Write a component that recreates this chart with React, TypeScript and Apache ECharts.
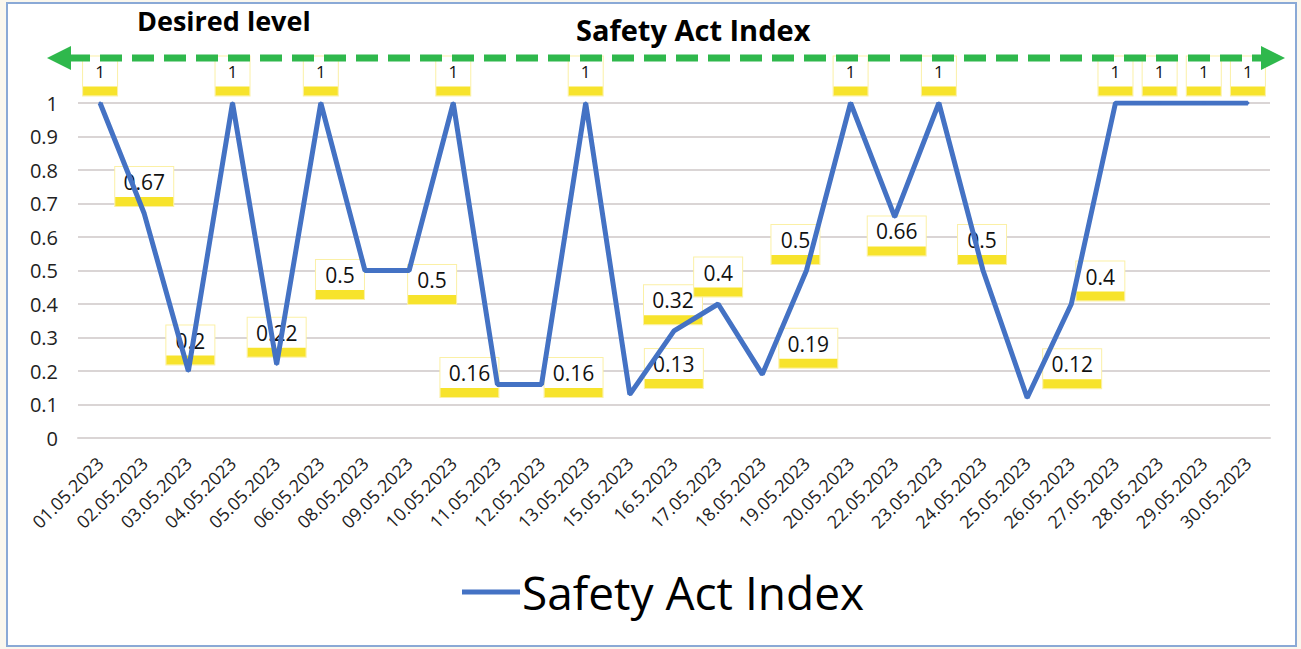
import React, { useEffect, useRef } from "react";
import * as echarts from "echarts";

const categories = [
  "01.05.2023", "02.05.2023", "03.05.2023", "04.05.2023", "05.05.2023", "06.05.2023",
  "08.05.2023", "09.05.2023", "10.05.2023", "11.05.2023", "12.05.2023", "13.05.2023",
  "15.05.2023", "16.5.2023", "17.05.2023", "18.05.2023", "19.05.2023", "20.05.2023",
  "22.05.2023", "23.05.2023", "24.05.2023", "25.05.2023", "26.05.2023", "27.05.2023",
  "28.05.2023", "29.05.2023", "30.05.2023",
];

const safetyActIndex = [
  1, 0.67, 0.2, 1, 0.22, 1, 0.5, 0.5, 1, 0.16, 0.16, 1, 0.13, 0.32, 0.4, 0.19, 0.5, 1,
  0.66, 1, 0.5, 0.12, 0.4, 1, 1, 1, 1,
];

const yTicks = { min: 0, max: 1, interval: 0.1 };

const seriesName = "Safety Act Index";
const titleText = "Safety Act Index";
const desiredLevelText = "Desired level";

// label box offsets (box centre relative to point), styling only
const labelOffsets: [number, number][] = [
  [0, -27], [0, -27], [2, -26], [0, -27], [0, -27], [0, -27],
  [-25, 9], [23, 14], [0, -27], [-28, -7], [32, -7], [0, -27],
  [44, -26], [-1, -26], [0, -27], [46, -26], [-11, -26], [0, -27],
  [2, 19], [0, -27], [-1, -26], [45, -29], [29, -23], [0, -27],
  [0, -27], [0, -27], [0, -27],
];

const FONT = "'Open Sans', 'Noto Sans', sans-serif";
const BLUE = "#4472c4";
const YELLOW = "#f7e32c";
const GREEN = "#2fb84c";

export default function App() {
  const ref = useRef<HTMLDivElement>(null);

  useEffect(() => {
    if (!ref.current) return;
    const chart = echarts.init(ref.current, null, { renderer: "svg" });

    const labelData = safetyActIndex.map((v, i) => ({
      value: v,
      label: { offset: labelOffsets[i] },
    }));

    const option: any = {
      animation: false,
      textStyle: { fontFamily: FONT },
      title: {
        text: titleText,
        left: 576,
        top: 15,
        padding: 0,
        textStyle: { fontFamily: FONT, fontWeight: "bold", fontSize: 29, color: "#000" },
      },
      grid: { left: 78, right: 31, top: 103, bottom: 211, containLabel: false },
      legend: {
        data: [seriesName],
        left: 457,
        top: 561,
        icon: "rect",
        itemWidth: 58,
        itemHeight: 5,
        itemGap: 5,
        textStyle: { fontFamily: FONT, fontSize: 46, color: "#000", lineHeight: 52, padding: [0, 0, 0, -3] },
      },
      xAxis: {
        type: "category",
        data: categories,
        boundaryGap: true,
        axisLine: { show: true, lineStyle: { color: "#dad5d5", width: 2 } },
        axisTick: { show: false },
        axisLabel: {
          rotate: 45,
          margin: 22,
          interval: 0,
          fontFamily: FONT,
          fontSize: 18,
          color: "#222",
        },
      },
      yAxis: {
        type: "value",
        min: yTicks.min,
        max: yTicks.max,
        interval: yTicks.interval,
        axisLine: { show: false },
        axisTick: { show: false },
        splitLine: { lineStyle: { color: "#dad5d5", width: 2 } },
        axisLabel: {
          margin: 20,
          fontFamily: FONT,
          fontSize: 20,
          color: "#222",
          formatter: (v: number) => String(Math.round(v * 10) / 10),
        },
      },
      series: [
        {
          name: seriesName,
          type: "line",
          z: 4,
          data: safetyActIndex,
          symbol: "circle",
          symbolSize: 3,
          itemStyle: { color: BLUE },
          lineStyle: { color: BLUE, width: 5 },
          label: { show: false },
        },
        {
          name: "labels",
          type: "line",
          z: 2,
          data: labelData,
          symbol: "circle",
          symbolSize: 1,
          itemStyle: { color: "rgba(0,0,0,0)" },
          lineStyle: { width: 0, opacity: 0 },
          silent: true,
          label: {
            show: true,
            position: "inside",
            align: "center",
            verticalAlign: "middle",
            backgroundColor: "#ffffff",
            borderColor: "#fbf0a6",
            borderWidth: 1,
            padding: 0,
            formatter: (p: any) => {
              const s = String(p.value);
              const k = s.length >= 4 ? 4 : s.length === 1 ? 1 : 3;
              return `{t${k}|${s}}\n{b${k}|}`;
            },
            rich: {
              t1: { fontFamily: FONT, fontSize: 17, color: "#111", width: 34, height: 30, lineHeight: 30, align: "center" },
              t3: { fontFamily: FONT, fontSize: 21, color: "#111", width: 48, height: 30, lineHeight: 30, align: "center" },
              t4: { fontFamily: FONT, fontSize: 21, color: "#111", width: 58, height: 30, lineHeight: 30, align: "center" },
              b1: { width: 34, height: 9, lineHeight: 9, backgroundColor: YELLOW },
              b3: { width: 48, height: 9, lineHeight: 9, backgroundColor: YELLOW },
              b4: { width: 58, height: 9, lineHeight: 9, backgroundColor: YELLOW },
            },
          },
        },
      ],
      graphic: [
        {
          type: "text",
          left: 137,
          top: 7,
          style: {
            text: desiredLevelText,
            fontFamily: FONT,
            fontWeight: "bold",
            fontSize: 27,
            fill: "#000",
          },
        },
        {
          type: "line",
          shape: { x1: 68, y1: 58, x2: 1262, y2: 58 },
          style: { stroke: GREEN, lineWidth: 7, lineDash: [22, 10] },
          z: 10,
        },
        {
          type: "polygon",
          shape: { points: [[47, 58], [71, 46], [71, 70]] },
          style: { fill: GREEN },
          z: 10,
        },
        {
          type: "polygon",
          shape: { points: [[1285, 58], [1261, 46], [1261, 70]] },
          style: { fill: GREEN },
          z: 10,
        },
      ],
    };

    chart.setOption(option);
    return () => chart.dispose();
  }, []);

  return (
    <div style={{ position: "fixed", left: 0, top: 0, width: 1301, height: 649, background: "#faf7ee" }}>
      <div
        style={{
          position: "absolute",
          left: 6,
          top: 2,
          width: 1291,
          height: 645,
          boxSizing: "border-box",
          border: "2px solid #8aa9d6",
          background: "#ffffff",
        }}
      />
      <div ref={ref} style={{ position: "absolute", left: 0, top: 0, width: 1301, height: 649 }} />
    </div>
  );
}
